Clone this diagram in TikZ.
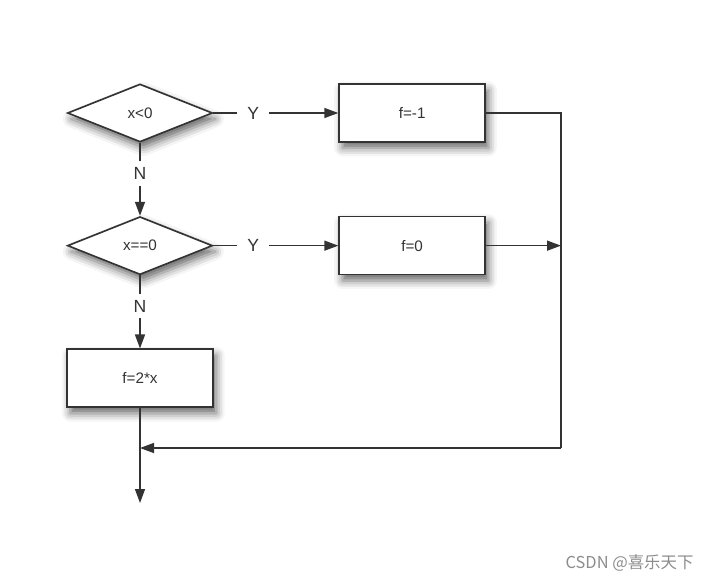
\documentclass[tikz,border=0pt]{standalone}
\usepackage{fontspec}
\setmainfont{Liberation Sans}
\newfontfamily\cjk{Noto Sans CJK SC}
\usetikzlibrary{shapes.geometric, arrows.meta, positioning, shadows.blur}

\begin{document}
\begin{tikzpicture}[x=0.03cm, y=-0.03cm, >={Triangle[length=0.42cm, width=0.3cm]},
    color=black!80, line width=1.2pt, node distance=2.19cm and 3.75cm,
    shade/.style={blur shadow={shadow xshift=0.1cm, shadow yshift=-0.18cm, shadow blur radius=0.25cm, shadow opacity=60}},
    cond/.style={diamond, draw, fill=white, line width=1.4pt, inner sep=0pt, shade,
        minimum width=4.35cm, minimum height=1.74cm, font=\fontsize{13}{15}\selectfont},
    proc/.style={rectangle, draw, fill=white, line width=1.4pt, shade,
        minimum width=4.38cm, minimum height=1.74cm, font=\fontsize{13}{15}\selectfont},
    lbl/.style={fill=white, inner xsep=0.3cm, inner ysep=0.18cm, font=\fontsize{15}{17}\selectfont}]
    \useasboundingbox (0,0) rectangle (713,582);
    \node[cond] (ltz) at (140,113) {x<0};
    \node[proc, right=of ltz] (fneg) {f=-1};
    \node[cond, below=of ltz] (eqz) {x==0};
    \node[proc, right=of eqz] (fzero) {f=0};
    \node[proc, below=of eqz] (fdbl) {f=2*x};
    \coordinate (rtop) at (fneg.east -| 561,0);
    \coordinate (rmid) at (fzero.east -| rtop);
    \coordinate (rbot) at (561,448);
    \coordinate (join) at (rbot -| fdbl);
    \coordinate (exit) at (140,503);
    \node[anchor=east, text=black!45, font=\cjk\fontsize{14}{16}\selectfont] (mark) at (698,563) {CSDN @喜乐天下};

    \draw[->] (ltz) -- node[pos=0.32, lbl]{Y} (fneg);
    \draw[->] (ltz) -- node[pos=0.42, lbl]{N} (eqz);
    \draw[->] (eqz) -- node[pos=0.32, lbl]{Y} (fzero);
    \draw[->] (eqz) -- node[pos=0.42, lbl]{N} (fdbl);
    \draw (fneg) -- (rtop) -- (rbot);
    \draw[->] (fzero) -- (rmid);
    \draw[->] (rbot) -- (join);
    \draw[->] (fdbl) -- (exit);
\end{tikzpicture}
\end{document}
